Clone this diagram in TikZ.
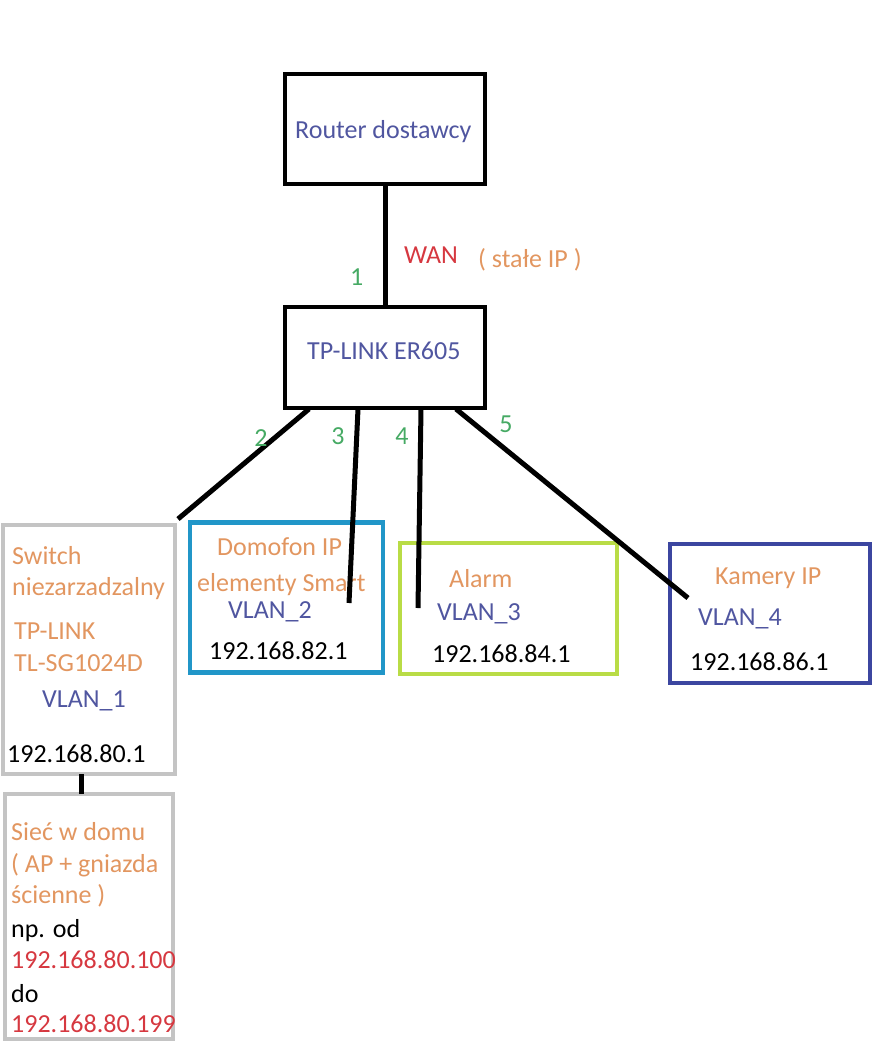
\documentclass[tikz,border=0pt]{standalone}
\usepackage{fontspec}
\setmainfont{Carlito}
\usepackage{tikz}

\definecolor{txtorange}{RGB}{226,150,96}
\definecolor{txtblue}{RGB}{80,86,160}
\definecolor{txtred}{RGB}{214,56,64}
\definecolor{txtgreen}{RGB}{70,170,100}
\definecolor{boxgray}{RGB}{196,196,196}
\definecolor{boxcyan}{RGB}{33,150,200}
\definecolor{boxlime}{RGB}{185,220,70}
\definecolor{boxnavy}{RGB}{60,70,160}

\begin{document}
\begin{tikzpicture}[x=1pt, y=-1pt,
    box/.style={rectangle, draw, line width=4.5pt, inner sep=0pt, outer sep=0pt},
    txt/.style={anchor=base west, inner sep=0pt, font=\fontsize{26}{32}\selectfont},
    port/.style={inner sep=0pt, text=txtgreen, font=\fontsize{26}{32}\selectfont},
    cable/.style={line width=5pt}]
    \useasboundingbox (0,0) rectangle (886,1053);

    % router + ER605
    \node (router) [box, minimum width=200pt, minimum height=110pt] at (385,129) {};
    \node (er605) [box, minimum width=200pt, minimum height=101pt] at (385,357.5) {};
    \node (routertxt) [txt, text=txtblue] at (295,138) {Router dostawcy};
    \node (ertxt) [txt, text=txtblue] at (307,359) {TP-LINK ER605};
    \draw[cable] (router) -- (er605);
    \node (wan) [txt, text=txtred] at (404,263) {WAN};
    \node (stale) [txt, text=txtorange] at (478,267) {( stałe IP )};
    \node (p1) [port, anchor=base west] at (350,285) {1};

    % boxes under ER605
    \node (switch) [box, draw=boxgray, minimum width=172pt, minimum height=249pt] at (89,649.5) {};
    \node (domofon) [box, draw=boxcyan, minimum width=193pt, minimum height=150pt] at (286.5,597.5) {};
    \node (alarm) [box, draw=boxlime, minimum width=217pt, minimum height=131pt] at (508.5,608.5) {};
    \node (kamery) [box, draw=boxnavy, minimum width=200pt, minimum height=139pt] at (770,613.5) {};
    \node (siec) [box, draw=boxgray, minimum width=168pt, minimum height=245pt] at (89,916.5) {};

    \node (sw1) [txt, text=txtorange] at (12,564) {Switch};
    \node (sw2) [txt, text=txtorange] at (12,595) {niezarzadzalny};
    \node (sw3) [txt, text=txtorange] at (14,639) {TP-LINK};
    \node (sw4) [txt, text=txtorange] at (14,671) {TL-SG1024D};
    \node (sw5) [txt, text=txtblue] at (42,707) {VLAN\_1};
    \node (sw6) [txt] at (7,762) {192.168.80.1};

    \node (do1) [txt, text=txtorange] at (217,555) {Domofon IP};
    \node (do2) [txt, text=txtorange] at (197,591) {elementy Smart};
    \node (do3) [txt, text=txtblue] at (228,618) {VLAN\_2};
    \node (do4) [txt] at (209,659) {192.168.82.1};

    \node (al1) [txt, text=txtorange] at (449,587) {Alarm};
    \node (al2) [txt, text=txtblue] at (437,620) {VLAN\_3};
    \node (al3) [txt] at (432,662) {192.168.84.1};

    \node (ka1) [txt, text=txtorange] at (715,584) {Kamery IP};
    \node (ka2) [txt, text=txtblue] at (698,625) {VLAN\_4};
    \node (ka3) [txt] at (690,670) {192.168.86.1};

    \node (si1) [txt, text=txtorange] at (11,840) {Sieć w domu};
    \node (si2) [txt, text=txtorange] at (11,872) {( AP + gniazda};
    \node (si3) [txt, text=txtorange] at (11,903) {ścienne )};
    \node (si4) [txt] at (11,937) {np. od};
    \node (si5) [txt, text=txtred] at (11,968) {192.168.80.100};
    \node (si6) [txt] at (11,1002) {do};
    \node (si7) [txt, text=txtred] at (11,1032) {192.168.80.199};

    % cables
    \coordinate (a2) at (309,409);
    \coordinate (a3) at (358,409);
    \coordinate (a4) at (421,409);
    \coordinate (a5) at (456,409);
    \coordinate (e2) at (178,519);
    \coordinate (e3) at (349,603);
    \coordinate (e4) at (418,608);
    \coordinate (e5) at (688,598);
    \coordinate (x6) at (81,0);
    \draw[cable] (a2) -- (e2);
    \draw[cable] (a3) -- (e3);
    \draw[cable] (a4) -- (e4);
    \draw[cable] (a5) -- (e5);
    \draw[cable] (switch.south -| x6) -- (siec.north -| x6);

    \node (p2) [port] at (261,438) {2};
    \node (p3) [port] at (338,436) {3};
    \node (p4) [port] at (402,436) {4};
    \node (p5) [port] at (506,424) {5};
\end{tikzpicture}
\end{document}
